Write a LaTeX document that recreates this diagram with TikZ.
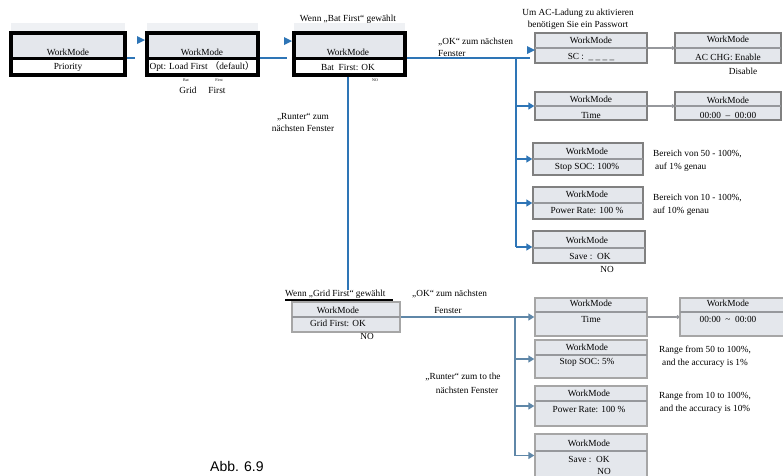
\documentclass[tikz,border=0pt]{standalone}
\usepackage{fontspec}
\setmainfont{Liberation Serif}
\newfontfamily\absans{Liberation Sans}
\newfontfamily\cjkf{Noto Sans CJK SC}
\usetikzlibrary{fit,arrows.meta}
\definecolor{boxgray}{RGB}{228,231,236}
\definecolor{lineblue}{RGB}{46,117,182}
\definecolor{softblue}{RGB}{95,135,168}
\definecolor{bordgray}{RGB}{128,128,128}
\definecolor{bandgray}{RGB}{150,152,156}
\tikzset{
  bbox/.style={draw=black, line width=3.2pt, inner sep=0pt},
  gbox/.style={draw=bordgray, line width=1.4pt, fill=boxgray, inner sep=0pt},
  lbox/.style={draw=bordgray!70, line width=1.4pt, fill=boxgray, inner sep=0pt},
  bandline/.style={draw=bandgray, line width=2pt},
  txt/.style={font=\fontsize{9.3}{10}\selectfont, inner sep=0pt},
  tiny/.style={font=\fontsize{4}{5}\selectfont, inner sep=0pt},
  conn/.style={draw=lineblue, line width=2pt},
  sconn/.style={draw=softblue, line width=1.8pt},
  gconn/.style={draw=bandgray, line width=1.2pt},
  tip/.style={-{Triangle[length=6pt,width=7pt]}},
  dot/.style={-{Circle[length=3.5pt,fill=softblue]}},
}
\newcommand\mkgbox[7]{% style name x1 y1 x2 y2 band
  \node[#1, fit={(#3,#4)(#5,#6)}] (#2) {};
  \draw[bandline] (#3,#7) -- (#5,#7);
}
\newcommand\mkbbox[5]{% name x1 y1 x2 y2
  \fill[boxgray!60] (#2,23) rectangle (#4,33);
  \fill[boxgray] (#2,33) rectangle (#4,58);
  \node[bbox, fit={(#2,#3)(#4,#5)}] (#1) {};
  \draw[line width=3pt] (#2,58) -- (#4,58);
}
\begin{document}
\begin{tikzpicture}[x=1pt,y=-1pt]
\useasboundingbox (0,0) rectangle (783,475);

% ---- top black boxes
\mkbbox{b1}{11}{33}{125}{75}
\mkbbox{b2}{147}{33}{258}{75}
\mkbbox{b3}{294}{33}{405}{75}
\node[txt] (t1a) at (68,52) {WorkMode};
\node[txt] (t1b) at (68,67) {Priority};
\node[txt] (t2a) at (202,52) {WorkMode};
\node[txt] (t2b) at (202,67) {Opt: Load First \cjkf（\rmfamily default\cjkf）};
\node[tiny] (t2c) at (186,80) {Bat};
\node[tiny] (t2d) at (219,80) {First};
\node[txt] (t2e) at (188,90) {Grid};
\node[txt] (t2f) at (217,90) {First};
\node[txt] (t3a) at (348,52) {WorkMode};
\node[txt] (t3b) at (348,67) {Bat\ \ First: OK};
\node[tiny] (t3c) at (375,80) {NO};
\node[txt] (t3d) at (348,19) {Wenn „Bat First“ gewählt};

% arrows between black boxes
\draw[conn] ([yshift=-4pt]b1.east) -- ++(8,0) coordinate (e1);
\fill[lineblue] (137,36) -- (145,40) -- (137,44) -- cycle;
\draw[conn] ([yshift=-4pt]b2.east) -- ++(27,0) coordinate (e2);
\fill[lineblue] (284,37) -- (292,41) -- (284,45) -- cycle;

\node[txt, anchor=west] (ok1) at (438,42) {„OK“ zum nächsten};
\node[txt, anchor=west] (ok2) at (438,53) {Fenster};
\node[txt] (ru1) at (303,117) {„Runter“ zum};
\node[txt] (ru2) at (303,128) {nächsten Fenster};

% ---- top right boxes
\mkgbox{gbox}{sc}{535}{33}{647}{63}{48}
\mkgbox{gbox}{ac}{675}{33}{781}{63}{48}
\mkgbox{gbox}{tm}{535}{92}{647}{120}{106}
\mkgbox{gbox}{tm2}{675}{92}{781}{120}{106}
\mkgbox{gbox}{ss}{533}{143}{643}{175}{159}
\mkgbox{gbox}{pr}{533}{187}{643}{219}{203}
\mkgbox{gbox}{sv}{533}{231}{645}{263}{248}

\node[txt] (u1) at (578,13) {Um AC-Ladung zu aktivieren};
\node[txt] (u2) at (578,25) {benötigen Sie ein Passwort};
\node[txt] (sca) at (591,40) {WorkMode};
\node[txt] (scb) at (591,57) {SC :\ \ \_ \_ \_ \_};
\node[txt] (aca) at (728,39) {WorkMode};
\node[txt] (acb) at (728,57) {AC CHG: Enable};
\node[txt] (acc) at (743,71) {Disable};
\node[txt] (tma) at (591,99) {WorkMode};
\node[txt] (tmb) at (591,115) {Time};
\node[txt] (tm2a) at (728,100) {WorkMode};
\node[txt] (tm2b) at (728,115) {00:00\ \ –\ \ 00:00};
\node[txt] (ssa) at (587,151) {WorkMode};
\node[txt] (ssb) at (587,167) {Stop SOC: 100\%};
\node[txt, anchor=west] (be1) at (653,154) {Bereich von 50 - 100\%,};
\node[txt, anchor=west] (be2) at (655,167) {auf 1\% genau};
\node[txt] (pra) at (587,194) {WorkMode};
\node[txt] (prb) at (587,210) {Power Rate: 100 \%};
\node[txt, anchor=west] (be3) at (653,198) {Bereich von 10 - 100\%,};
\node[txt, anchor=west] (be4) at (653,211) {auf 10\% genau};
\node[txt] (sva) at (587,240) {WorkMode};
\node[txt] (svb) at (590,256) {Save :\ \ OK};
\node[txt] (svc) at (607,269) {NO};

% top connectors
\draw[conn] ([yshift=-4pt]b3.east) -- (530,58);
\coordinate (j) at (516,58);
\fill[lineblue] (527,46) -- (535,50) -- (527,54) -- cycle;
\draw[conn] (j) -- (sv.west -| j);
\draw[conn, tip] (tm.west -| j) -- (tm.west);
\draw[conn, tip] (ss.west -| j) -- (ss.west);
\draw[conn, tip] (pr.west -| j) -- (pr.west);
\draw[conn, tip] (sv.west -| j) -- (sv.west);
\draw[gconn, dot] (sc.east) -- (ac.west);
\draw[gconn, dot] (tm.east) -- (tm2.west);

% down to grid first
\coordinate (g0) at (348,290);
\draw[conn] (b3.south -| g0) -- (g0);

% ---- bottom section
\node[txt, anchor=west] (wg) at (285,294) {Wenn „Grid First“ gewählt};
\draw[line width=2.5pt] (285,300) -- (393,300);
\mkgbox{lbox}{gr}{292}{302}{400}{332}{317}
\node[txt] (gra) at (338,310) {WorkMode};
\node[txt] (grb) at (338,323) {Grid First: OK};
\node[txt] (grc) at (367,336) {NO};
\node[txt, anchor=west] (ok3) at (412,294) {„OK“ zum nächsten};
\node[txt] (ok4) at (448,310) {Fenster};

\mkgbox{lbox}{btm}{535}{298}{647}{336}{312}
\mkgbox{lbox}{btm2}{680}{298}{785}{336}{312}
\mkgbox{lbox}{bss}{535}{340}{647}{378}{355}
\mkgbox{lbox}{bpr}{535}{386}{647}{426}{401}
\mkgbox{lbox}{bsv}{535}{434}{647}{477}{451}
\node[txt] (btma) at (591,303) {WorkMode};
\node[txt] (btmb) at (591,319) {Time};
\node[txt] (btm2a) at (728,303) {WorkMode};
\node[txt] (btm2b) at (728,319) {00:00\ \ \textasciitilde\ \ 00:00};
\node[txt] (bssa) at (587,347) {WorkMode};
\node[txt] (bssb) at (587,362) {Stop SOC: 5\%};
\node[txt] (ra1) at (705,350) {Range from 50 to 100\%,};
\node[txt] (ra2) at (705,363) {and the accuracy is 1\%};
\node[txt] (bpra) at (589,393) {WorkMode};
\node[txt] (bprb) at (589,409) {Power Rate: 100 \%};
\node[txt] (ra3) at (705,396) {Range from 10 to 100\%,};
\node[txt] (ra4) at (705,409) {and the accuracy is 10\%};
\node[txt] (bsva) at (589,443) {WorkMode};
\node[txt] (bsvb) at (589,459) {Save :\ \ OK};
\node[txt] (bsvc) at (604,471) {NO};
\node[txt] (rb1) at (463,377) {„Runter“ zum to the};
\node[txt] (rb2) at (467,390) {nächsten Fenster};

\coordinate (k) at (515,317);
\draw[sconn] (gr.east) -- (k) -- (bsv.west -| k);
\draw[sconn, tip] (k) -- (btm.west);
\draw[sconn, tip] (bss.west -| k) -- (bss.west);
\draw[sconn, tip] (bpr.west -| k) -- (bpr.west);
\draw[sconn, tip] (bsv.west -| k) -- (bsv.west);
\draw[gconn, dot] (btm.east) -- (btm2.west);

\node[font=\absans\fontsize{14}{16}\selectfont, inner sep=0pt, anchor=west] (abb) at (210,466) {Abb. 6.9};
\end{tikzpicture}
\end{document}
